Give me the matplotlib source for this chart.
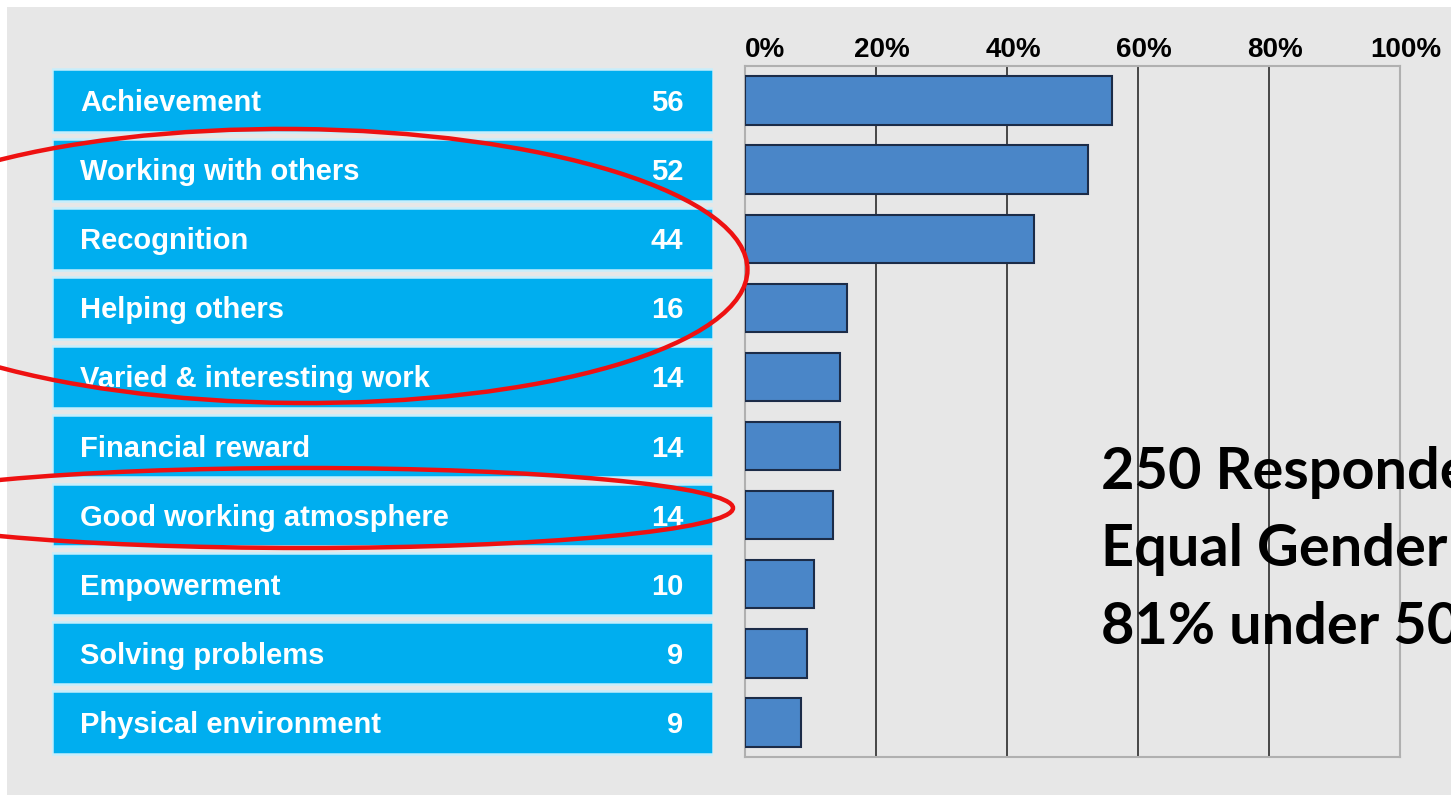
import matplotlib
matplotlib.use("Agg")
import matplotlib.pyplot as plt
from matplotlib.patches import Rectangle, Ellipse
import matplotlib.transforms as mtransforms

# ---- data ----
categories = ["Achievement", "Working with others", "Recognition", "Helping others",
              "Varied & interesting work", "Financial reward", "Good working atmosphere",
              "Empowerment", "Solving problems", "Physical environment"]
counts = [56, 52, 44, 16, 14, 14, 14, 10, 9, 9]
bar_pct = [56.0, 52.4, 44.1, 15.6, 14.5, 14.5, 13.4, 10.5, 9.5, 8.5]
tick_vals = [0, 20, 40, 60, 80, 100]
tick_labels = ["0%", "20%", "40%", "60%", "80%", "100%"]
note_lines = ["250 Respondents", "Equal Gender", "81% under 50"]

W, H = 1451, 801
fig = plt.figure(figsize=(W / 100, H / 100), dpi=100)
fig.patch.set_facecolor("white")

PANEL = "#e7e7e7"
fig.add_artist(Rectangle((7 / W, 1 - 795 / H), 1, (795 - 7) / H,
                         transform=fig.transFigure, facecolor=PANEL,
                         edgecolor="none", zorder=0))

def fig_rect(x0, y0, x1, y1):
    return [x0 / W, 1 - y1 / H, (x1 - x0) / W, (y1 - y0) / H]

n = len(categories)
ypos = list(range(n))

# ---- label boxes ----
axl = fig.add_axes(fig_rect(52, 66, 713, 757))
axl.set_xlim(0, 1)
axl.set_ylim(n - 0.5, -0.5)
axl.barh(ypos, [1] * n, left=0, height=0.9, color="#00aeef",
         edgecolor="#c8eefb", linewidth=1.8)
txt_shift = mtransforms.ScaledTranslation(0, -2.5 / 100, fig.dpi_scale_trans)
for i, (c, v) in enumerate(zip(categories, counts)):
    axl.text(0.043, i, c, color="white", fontsize=21, fontweight="bold",
             family="Liberation Sans", va="center", ha="left",
             transform=axl.transData + txt_shift)
    axl.text(0.955, i, str(v), color="white", fontsize=21, fontweight="bold",
             family="Liberation Sans", va="center", ha="right",
             transform=axl.transData + txt_shift)
axl.axis("off")

# ---- bar chart ----
ax = fig.add_axes(fig_rect(745, 66, 1400, 757))
ax.set_facecolor(PANEL)
ax.set_xlim(0, 100)
ax.set_ylim(n - 0.5, -0.5)
for g in tick_vals[1:-1]:
    ax.axvline(g, color="#3a3a3a", linewidth=1.3, zorder=1)
ax.barh(ypos, bar_pct, height=0.7, color="#4a86c8", edgecolor="#1c2c48",
        linewidth=1.5, zorder=3)
ax.xaxis.tick_top()
ax.set_xticks(tick_vals)
ax.set_xticklabels(tick_labels, fontsize=20, fontweight="bold",
                   family="Liberation Sans")
ax.tick_params(axis="x", length=0, pad=2)
shift = mtransforms.ScaledTranslation(6 / 100, 0, fig.dpi_scale_trans)
for k, lbl in enumerate(ax.get_xticklabels()):
    if k == 0:
        lbl.set_ha("left")
    else:
        lbl.set_transform(lbl.get_transform() + shift)
ax.set_yticks([])
for s in ax.spines.values():
    s.set_color("#b0b0b0")
    s.set_linewidth(1.5)

# ---- note text (runs past the right edge, as in the reference) ----
for k, line in enumerate(note_lines):
    fig.text(1101 / W, 1 - (489 + 77.5 * k) / H, line, fontsize=41.5,
             fontweight="bold", family="Lato", va="baseline", ha="left",
             color="black")

# ---- red ellipses (overlay) ----
ov = fig.add_axes([0, 0, 1, 1])
ov.set_xlim(0, W)
ov.set_ylim(H, 0)
ov.axis("off")
ov.patch.set_alpha(0)
ov.add_patch(Ellipse((295, 266), 905, 274, angle=0.5, fill=False,
                     edgecolor="#ee1111", linewidth=3.2))
ov.add_patch(Ellipse((305, 508), 856, 80, angle=0, fill=False,
                     edgecolor="#ee1111", linewidth=3.2))

fig.savefig("out.png", dpi=100)
